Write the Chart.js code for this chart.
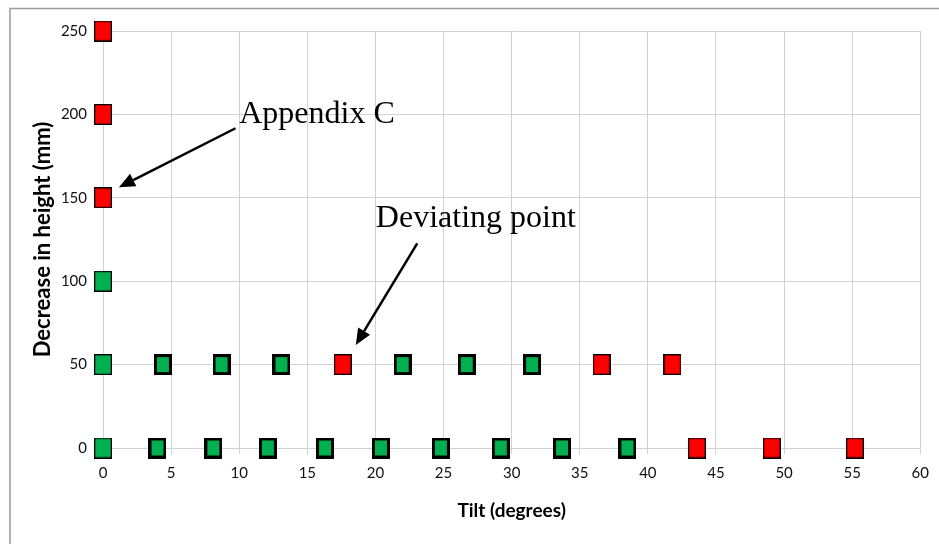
<!DOCTYPE html>
<html>
<head>
<meta charset="utf-8">
<script src="https://cdn.jsdelivr.net/npm/chart.js@4/dist/chart.umd.min.js"></script>
<style>
  html, body { margin: 0; padding: 0; background: #ffffff; }
  #wrap { width: 939px; height: 544px; position: relative; }
</style>
</head>
<body>
<div id="wrap"><canvas id="c" width="939" height="544"></canvas></div>
<script>
// ---- Data ----
const xTicks = [0, 5, 10, 15, 20, 25, 30, 35, 40, 45, 50, 55, 60];
const yTicks = [0, 50, 100, 150, 200, 250];

// Green markers with heavy outline (stable specimens)
const stableTilt = [4.0, 8.1, 12.1, 16.3, 20.4, 24.8, 29.2, 33.7, 38.5, 4.4, 8.7, 13.1, 22.0, 26.7, 31.5];
const stableDrop = [0, 0, 0, 0, 0, 0, 0, 0, 0, 50, 50, 50, 50, 50, 50];

// Green markers on the vertical axis (thin outline)
const axisGreenTilt = [0, 0, 0];
const axisGreenDrop = [0, 50, 100];

// Red markers (thin outline)
const redTilt = [43.6, 49.1, 55.2, 17.6, 36.6, 41.8, 0, 0, 0];
const redDrop = [0, 0, 0, 50, 50, 50, 150, 200, 250];

// Annotations (text + arrow, in data coordinates)
const noteTexts = ["Appendix C", "Deviating point"];
const noteTextX = [10.0, 20.03];
const noteTextY = [194.7, 132.7];
const arrowFromX = [9.73, 23.07];
const arrowFromY = [191.7, 122.7];
const arrowToX = [1.17, 18.56];
const arrowToY = [156.3, 61.8];

// ---- helpers ----
function pts(xs, ys) { return xs.map((x, i) => ({ x: x, y: ys[i] })); }

function makeMarker(fill, bw) {
  const w = 18, h = 21;
  const c = document.createElement('canvas');
  c.width = w; c.height = h;
  const g = c.getContext('2d');
  g.fillStyle = fill;
  g.fillRect(0, 0, w, h);
  g.strokeStyle = '#000000';
  g.lineWidth = bw;
  g.strokeRect(bw / 2, bw / 2, w - bw, h - bw);
  return c;
}

const GREEN = '#00b050';
const RED = '#ff0000';
const markerStable = makeMarker(GREEN, 3);
const markerAxisGreen = makeMarker(GREEN, 1.3);
const markerRed = makeMarker(RED, 1.3);

const frame = {
  id: 'frame',
  beforeDraw(chart) {
    const ctx = chart.ctx;
    ctx.save();
    ctx.fillStyle = '#ffffff';
    ctx.fillRect(0, 0, chart.width, chart.height);
    ctx.strokeStyle = '#9a9a9a';
    ctx.lineWidth = 1.5;
    ctx.strokeRect(10, 8.5, chart.width + 20, chart.height + 20);
    ctx.restore();
  }
};

const notes = {
  id: 'notes',
  afterDraw(chart) {
    const ctx = chart.ctx;
    const xs = chart.scales.x, ys = chart.scales.y;
    ctx.save();
    ctx.fillStyle = '#000';
    ctx.strokeStyle = '#000';
    ctx.font = '32px "Liberation Serif", "Times New Roman", serif';
    ctx.textBaseline = 'alphabetic';
    ctx.textAlign = 'left';
    for (let i = 0; i < noteTexts.length; i++) {
      ctx.fillText(noteTexts[i], xs.getPixelForValue(noteTextX[i]), ys.getPixelForValue(noteTextY[i]));
      const x1 = xs.getPixelForValue(arrowFromX[i]), y1 = ys.getPixelForValue(arrowFromY[i]);
      const x2 = xs.getPixelForValue(arrowToX[i]), y2 = ys.getPixelForValue(arrowToY[i]);
      const ang = Math.atan2(y2 - y1, x2 - x1);
      const headLen = 16, headW = 7;
      const bx = x2 - headLen * Math.cos(ang), by = y2 - headLen * Math.sin(ang);
      ctx.lineWidth = 2.5;
      ctx.beginPath();
      ctx.moveTo(x1, y1);
      ctx.lineTo(bx, by);
      ctx.stroke();
      ctx.beginPath();
      ctx.moveTo(x2, y2);
      ctx.lineTo(bx + headW * Math.sin(ang), by - headW * Math.cos(ang));
      ctx.lineTo(bx - headW * Math.sin(ang), by + headW * Math.cos(ang));
      ctx.closePath();
      ctx.fill();
    }
    ctx.restore();
  }
};

const tickFont = { family: 'Lato, "Open Sans", sans-serif', size: 15 };
const xTitleFont = { family: 'Lato, "Open Sans", sans-serif', size: 19, weight: 'bold' };
const yTitleFont = { family: 'Lato, "Open Sans", sans-serif', size: 22, weight: 'bold' };

new Chart(document.getElementById('c'), {
  type: 'scatter',
  data: {
    datasets: [
      { label: 'stable', data: pts(stableTilt, stableDrop), pointStyle: markerStable, pointRadius: 11, clip: false },
      { label: 'axis', data: pts(axisGreenTilt, axisGreenDrop), pointStyle: markerAxisGreen, pointRadius: 11, clip: false },
      { label: 'red', data: pts(redTilt, redDrop), pointStyle: markerRed, pointRadius: 11, clip: false }
    ]
  },
  options: {
    responsive: false,
    animation: false,
    events: [],
    layout: { padding: { left: 0, top: 31, right: 16, bottom: 0 } },
    plugins: { legend: { display: false }, tooltip: { enabled: false } },
    scales: {
      x: {
        type: 'linear',
        min: 0, max: 60,
        afterBuildTicks(s) { s.ticks = xTicks.map(v => ({ value: v })); },
        afterFit(s) { s.height = 96; },
        grid: { color: '#d2d2d2', lineWidth: 1, drawTicks: true, tickLength: 6, tickColor: '#d2d2d2' },
        border: { display: true, color: '#d2d2d2' },
        ticks: { font: tickFont, color: '#111', padding: 10, maxRotation: 0 },
        title: { display: true, text: 'Tilt (degrees)', font: xTitleFont, color: '#000', padding: { top: 0, bottom: 22 } }
      },
      y: {
        type: 'linear',
        min: 0, max: 250,
        afterBuildTicks(s) { s.ticks = yTicks.map(v => ({ value: v })); },
        afterFit(s) { s.width = 103; },
        grid: { color: '#d2d2d2', lineWidth: 1, drawTicks: false },
        border: { display: true, color: '#d2d2d2' },
        ticks: { font: tickFont, color: '#111', padding: 16 },
        title: { display: true, text: 'Decrease in height (mm)', font: yTitleFont, color: '#000', padding: { top: 30, bottom: 0 } }
      }
    }
  },
  plugins: [frame, notes]
});
</script>
</body>
</html>
